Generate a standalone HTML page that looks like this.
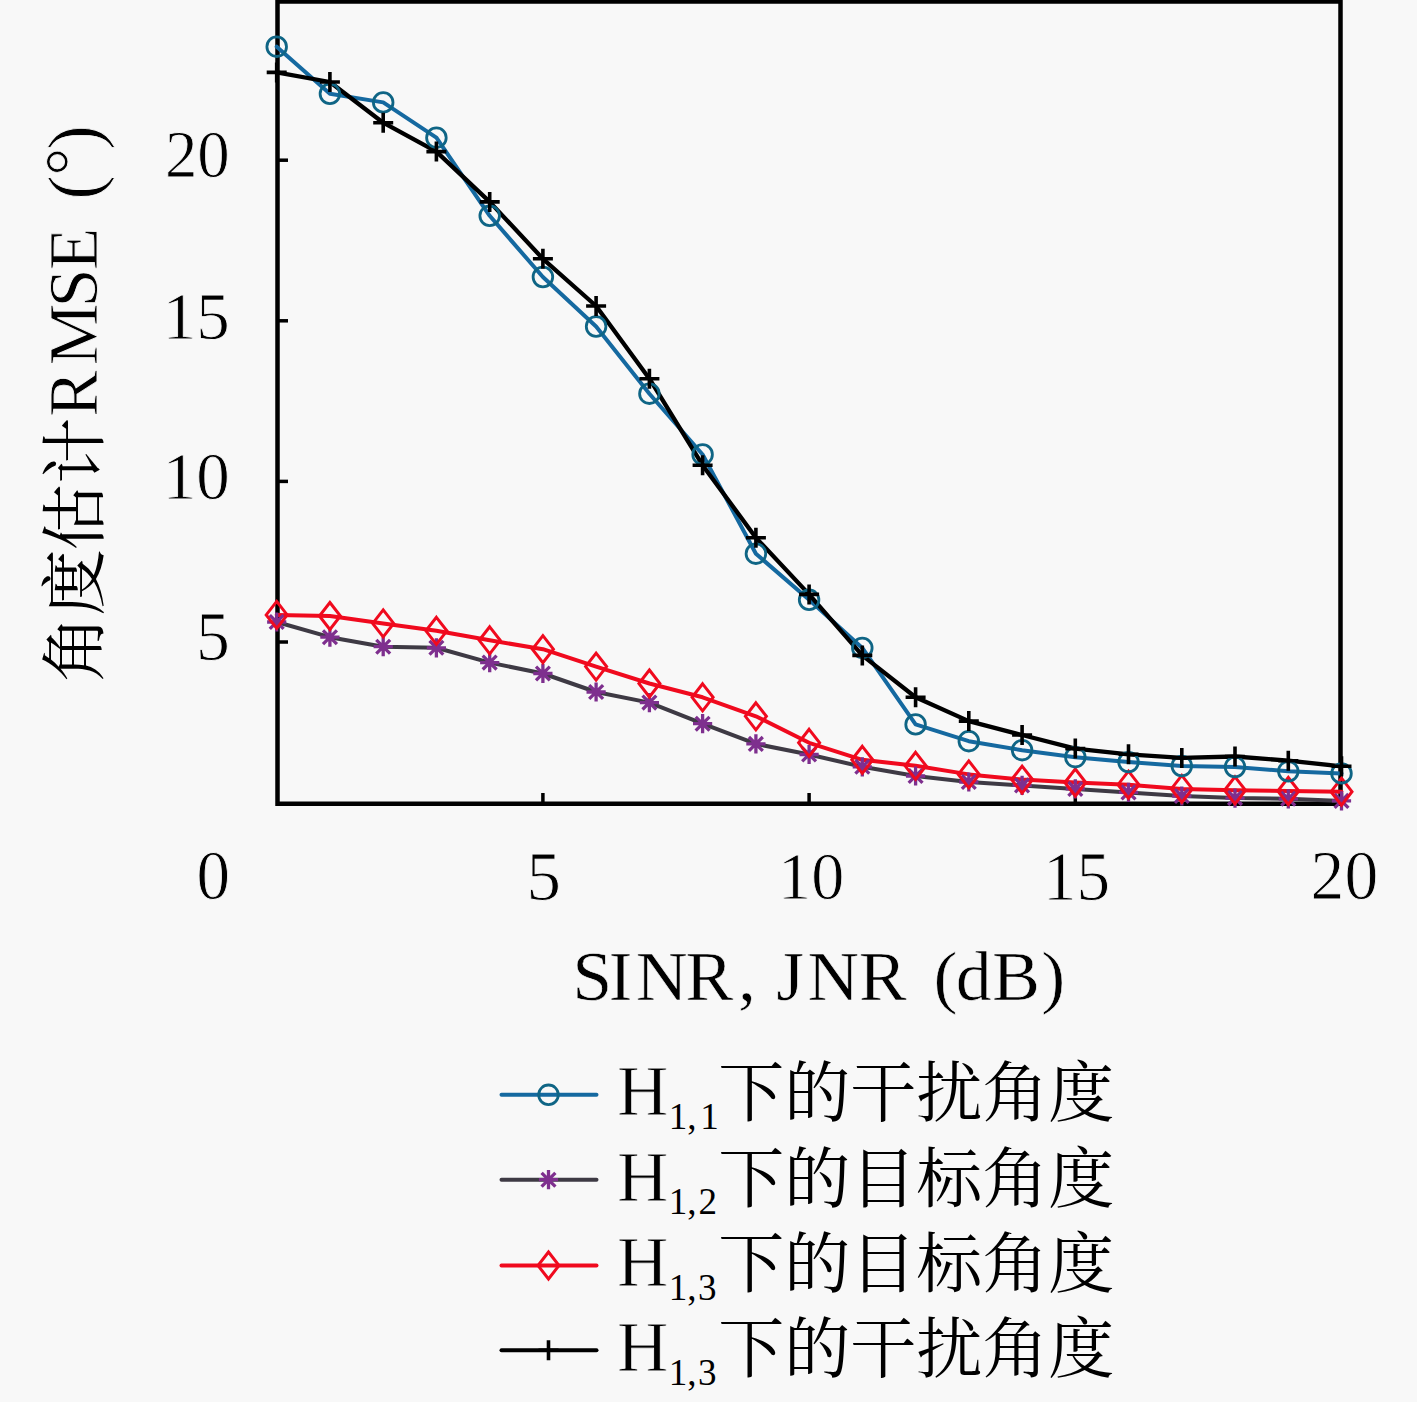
<!DOCTYPE html>
<html><head><meta charset="utf-8"><title>RMSE chart</title>
<style>
html,body{margin:0;padding:0;background:#f8f8f8;overflow:hidden;}
svg{display:block;}
text{fill:#000;}
</style></head><body>
<svg width="1417" height="1402" viewBox="0 0 1417 1402">
<rect width="1417" height="1402" fill="#f8f8f8"/>
<path d="M277.5 1.6V803.8H1340.5V1.6Z" stroke="#000" stroke-width="4.5" fill="none"/>
<g stroke="#000" stroke-width="3.5">
<line x1="279" y1="642.0" x2="288" y2="642.0"/>
<line x1="279" y1="481.4" x2="288" y2="481.4"/>
<line x1="279" y1="320.8" x2="288" y2="320.8"/>
<line x1="279" y1="160.2" x2="288" y2="160.2"/>
<line x1="542.9" y1="802" x2="542.9" y2="793"/>
<line x1="809.1" y1="802" x2="809.1" y2="793"/>
<line x1="1075.3" y1="802" x2="1075.3" y2="793"/>
<line x1="1341.5" y1="802" x2="1341.5" y2="793"/>
</g>
<polyline points="276.7,622.0 329.9,637.2 383.2,646.7 436.4,647.8 489.7,662.6 542.9,673.5 596.1,692.0 649.4,702.6 702.6,723.7 755.9,743.9 809.1,754.5 862.3,766.8 915.6,776.0 968.8,782.0 1022.1,785.4 1075.3,788.9 1128.5,792.4 1181.8,796.0 1235.0,798.1 1288.3,798.8 1341.5,800.9" fill="none" stroke="#3e3a44" stroke-width="4" stroke-linejoin="round" stroke-linecap="round"/>
<polyline points="276.7,614.9 329.9,616.0 383.2,623.4 436.4,630.8 489.7,640.3 542.9,649.2 596.1,666.6 649.4,683.5 702.6,697.3 755.9,716.3 809.1,742.8 862.3,759.8 915.6,765.8 968.8,774.4 1022.1,779.6 1075.3,782.5 1128.5,784.7 1181.8,788.9 1235.0,790.3 1288.3,791.0 1341.5,791.7" fill="none" stroke="#f00a1e" stroke-width="4" stroke-linejoin="round" stroke-linecap="round"/>
<polyline points="276.7,46.7 329.9,93.8 383.2,102.4 436.4,137.7 489.7,215.8 542.9,277.0 596.1,326.5 649.4,393.7 702.6,454.5 755.9,553.7 809.1,599.8 862.3,647.9 915.6,724.4 968.8,741.2 1022.1,750.2 1075.3,757.2 1128.5,762.1 1181.8,766.0 1235.0,767.0 1288.3,771.3 1341.5,773.4" fill="none" stroke="#1569a0" stroke-width="4" stroke-linejoin="round" stroke-linecap="round"/>
<polyline points="276.7,72.4 329.9,82.0 383.2,122.7 436.4,151.6 489.7,201.9 542.9,258.8 596.1,306.0 649.4,378.7 702.6,465.2 755.9,537.7 809.1,594.4 862.3,655.4 915.6,697.2 968.8,721.1 1022.1,735.0 1075.3,748.6 1128.5,754.3 1181.8,757.9 1235.0,756.5 1288.3,760.7 1341.5,766.3" fill="none" stroke="#000" stroke-width="4.3" stroke-linejoin="round" stroke-linecap="round"/>
<path d="M267.1 622.0H286.3M276.7 612.4V631.6M269.8 615.1L283.6 628.9M269.8 628.9L283.6 615.1" stroke="#7e2f8e" stroke-width="3.3" fill="none"/>
<path d="M320.3 637.2H339.5M329.9 627.6V646.8M323.0 630.3L336.9 644.1M323.0 644.1L336.9 630.3" stroke="#7e2f8e" stroke-width="3.3" fill="none"/>
<path d="M373.6 646.7H392.8M383.2 637.1V656.3M376.3 639.8L390.1 653.6M376.3 653.6L390.1 639.8" stroke="#7e2f8e" stroke-width="3.3" fill="none"/>
<path d="M426.8 647.8H446.0M436.4 638.2V657.4M429.5 640.9L443.3 654.7M429.5 654.7L443.3 640.9" stroke="#7e2f8e" stroke-width="3.3" fill="none"/>
<path d="M480.1 662.6H499.3M489.7 653.0V672.2M482.7 655.7L496.6 669.5M482.7 669.5L496.6 655.7" stroke="#7e2f8e" stroke-width="3.3" fill="none"/>
<path d="M533.3 673.5H552.5M542.9 663.9V683.1M536.0 666.6L549.8 680.4M536.0 680.4L549.8 666.6" stroke="#7e2f8e" stroke-width="3.3" fill="none"/>
<path d="M586.5 692.0H605.7M596.1 682.4V701.6M589.2 685.1L603.1 698.9M589.2 698.9L603.1 685.1" stroke="#7e2f8e" stroke-width="3.3" fill="none"/>
<path d="M639.8 702.6H659.0M649.4 693.0V712.2M642.5 695.7L656.3 709.5M642.5 709.5L656.3 695.7" stroke="#7e2f8e" stroke-width="3.3" fill="none"/>
<path d="M693.0 723.7H712.2M702.6 714.1V733.3M695.7 716.8L709.5 730.6M695.7 730.6L709.5 716.8" stroke="#7e2f8e" stroke-width="3.3" fill="none"/>
<path d="M746.3 743.9H765.5M755.9 734.3V753.5M748.9 737.0L762.8 750.8M748.9 750.8L762.8 737.0" stroke="#7e2f8e" stroke-width="3.3" fill="none"/>
<path d="M799.5 754.5H818.7M809.1 744.9V764.1M802.2 747.6L816.0 761.4M802.2 761.4L816.0 747.6" stroke="#7e2f8e" stroke-width="3.3" fill="none"/>
<path d="M852.7 766.8H871.9M862.3 757.2V776.4M855.4 759.9L869.3 773.7M855.4 773.7L869.3 759.9" stroke="#7e2f8e" stroke-width="3.3" fill="none"/>
<path d="M906.0 776.0H925.2M915.6 766.4V785.6M908.7 769.1L922.5 782.9M908.7 782.9L922.5 769.1" stroke="#7e2f8e" stroke-width="3.3" fill="none"/>
<path d="M959.2 782.0H978.4M968.8 772.4V791.6M961.9 775.1L975.7 788.9M961.9 788.9L975.7 775.1" stroke="#7e2f8e" stroke-width="3.3" fill="none"/>
<path d="M1012.5 785.4H1031.7M1022.1 775.8V795.0M1015.1 778.5L1029.0 792.3M1015.1 792.3L1029.0 778.5" stroke="#7e2f8e" stroke-width="3.3" fill="none"/>
<path d="M1065.7 788.9H1084.9M1075.3 779.3V798.5M1068.4 782.0L1082.2 795.8M1068.4 795.8L1082.2 782.0" stroke="#7e2f8e" stroke-width="3.3" fill="none"/>
<path d="M1118.9 792.4H1138.1M1128.5 782.8V802.0M1121.6 785.5L1135.5 799.3M1121.6 799.3L1135.5 785.5" stroke="#7e2f8e" stroke-width="3.3" fill="none"/>
<path d="M1172.2 796.0H1191.4M1181.8 786.4V805.6M1174.9 789.1L1188.7 802.9M1174.9 802.9L1188.7 789.1" stroke="#7e2f8e" stroke-width="3.3" fill="none"/>
<path d="M1225.4 798.1H1244.6M1235.0 788.5V807.7M1228.1 791.2L1241.9 805.0M1228.1 805.0L1241.9 791.2" stroke="#7e2f8e" stroke-width="3.3" fill="none"/>
<path d="M1278.7 798.8H1297.9M1288.3 789.2V808.4M1281.3 791.9L1295.2 805.7M1281.3 805.7L1295.2 791.9" stroke="#7e2f8e" stroke-width="3.3" fill="none"/>
<path d="M1331.9 800.9H1351.1M1341.5 791.3V810.5M1334.6 794.0L1348.4 807.8M1334.6 807.8L1348.4 794.0" stroke="#7e2f8e" stroke-width="3.3" fill="none"/>
<path d="M276.7 601.4L287.2 614.9L276.7 628.4L266.2 614.9Z" stroke="#f00a1e" stroke-width="3" fill="none"/>
<path d="M329.9 602.5L340.4 616.0L329.9 629.5L319.4 616.0Z" stroke="#f00a1e" stroke-width="3" fill="none"/>
<path d="M383.2 609.9L393.7 623.4L383.2 636.9L372.7 623.4Z" stroke="#f00a1e" stroke-width="3" fill="none"/>
<path d="M436.4 617.3L446.9 630.8L436.4 644.3L425.9 630.8Z" stroke="#f00a1e" stroke-width="3" fill="none"/>
<path d="M489.7 626.8L500.2 640.3L489.7 653.8L479.2 640.3Z" stroke="#f00a1e" stroke-width="3" fill="none"/>
<path d="M542.9 635.7L553.4 649.2L542.9 662.7L532.4 649.2Z" stroke="#f00a1e" stroke-width="3" fill="none"/>
<path d="M596.1 653.1L606.6 666.6L596.1 680.1L585.6 666.6Z" stroke="#f00a1e" stroke-width="3" fill="none"/>
<path d="M649.4 670.0L659.9 683.5L649.4 697.0L638.9 683.5Z" stroke="#f00a1e" stroke-width="3" fill="none"/>
<path d="M702.6 683.8L713.1 697.3L702.6 710.8L692.1 697.3Z" stroke="#f00a1e" stroke-width="3" fill="none"/>
<path d="M755.9 702.8L766.4 716.3L755.9 729.8L745.4 716.3Z" stroke="#f00a1e" stroke-width="3" fill="none"/>
<path d="M809.1 729.3L819.6 742.8L809.1 756.3L798.6 742.8Z" stroke="#f00a1e" stroke-width="3" fill="none"/>
<path d="M862.3 746.3L872.8 759.8L862.3 773.3L851.8 759.8Z" stroke="#f00a1e" stroke-width="3" fill="none"/>
<path d="M915.6 752.3L926.1 765.8L915.6 779.3L905.1 765.8Z" stroke="#f00a1e" stroke-width="3" fill="none"/>
<path d="M968.8 760.9L979.3 774.4L968.8 787.9L958.3 774.4Z" stroke="#f00a1e" stroke-width="3" fill="none"/>
<path d="M1022.1 766.1L1032.6 779.6L1022.1 793.1L1011.6 779.6Z" stroke="#f00a1e" stroke-width="3" fill="none"/>
<path d="M1075.3 769.0L1085.8 782.5L1075.3 796.0L1064.8 782.5Z" stroke="#f00a1e" stroke-width="3" fill="none"/>
<path d="M1128.5 771.2L1139.0 784.7L1128.5 798.2L1118.0 784.7Z" stroke="#f00a1e" stroke-width="3" fill="none"/>
<path d="M1181.8 775.4L1192.3 788.9L1181.8 802.4L1171.3 788.9Z" stroke="#f00a1e" stroke-width="3" fill="none"/>
<path d="M1235.0 776.8L1245.5 790.3L1235.0 803.8L1224.5 790.3Z" stroke="#f00a1e" stroke-width="3" fill="none"/>
<path d="M1288.3 777.5L1298.8 791.0L1288.3 804.5L1277.8 791.0Z" stroke="#f00a1e" stroke-width="3" fill="none"/>
<path d="M1341.5 778.2L1352.0 791.7L1341.5 805.2L1331.0 791.7Z" stroke="#f00a1e" stroke-width="3" fill="none"/>
<circle cx="276.7" cy="46.7" r="9.8" fill="none" stroke="#0f6585" stroke-width="2.8"/>
<circle cx="329.9" cy="93.8" r="9.8" fill="none" stroke="#0f6585" stroke-width="2.8"/>
<circle cx="383.2" cy="102.4" r="9.8" fill="none" stroke="#0f6585" stroke-width="2.8"/>
<circle cx="436.4" cy="137.7" r="9.8" fill="none" stroke="#0f6585" stroke-width="2.8"/>
<circle cx="489.7" cy="215.8" r="9.8" fill="none" stroke="#0f6585" stroke-width="2.8"/>
<circle cx="542.9" cy="277.0" r="9.8" fill="none" stroke="#0f6585" stroke-width="2.8"/>
<circle cx="596.1" cy="326.5" r="9.8" fill="none" stroke="#0f6585" stroke-width="2.8"/>
<circle cx="649.4" cy="393.7" r="9.8" fill="none" stroke="#0f6585" stroke-width="2.8"/>
<circle cx="702.6" cy="454.5" r="9.8" fill="none" stroke="#0f6585" stroke-width="2.8"/>
<circle cx="755.9" cy="553.7" r="9.8" fill="none" stroke="#0f6585" stroke-width="2.8"/>
<circle cx="809.1" cy="599.8" r="9.8" fill="none" stroke="#0f6585" stroke-width="2.8"/>
<circle cx="862.3" cy="647.9" r="9.8" fill="none" stroke="#0f6585" stroke-width="2.8"/>
<circle cx="915.6" cy="724.4" r="9.8" fill="none" stroke="#0f6585" stroke-width="2.8"/>
<circle cx="968.8" cy="741.2" r="9.8" fill="none" stroke="#0f6585" stroke-width="2.8"/>
<circle cx="1022.1" cy="750.2" r="9.8" fill="none" stroke="#0f6585" stroke-width="2.8"/>
<circle cx="1075.3" cy="757.2" r="9.8" fill="none" stroke="#0f6585" stroke-width="2.8"/>
<circle cx="1128.5" cy="762.1" r="9.8" fill="none" stroke="#0f6585" stroke-width="2.8"/>
<circle cx="1181.8" cy="766.0" r="9.8" fill="none" stroke="#0f6585" stroke-width="2.8"/>
<circle cx="1235.0" cy="767.0" r="9.8" fill="none" stroke="#0f6585" stroke-width="2.8"/>
<circle cx="1288.3" cy="771.3" r="9.8" fill="none" stroke="#0f6585" stroke-width="2.8"/>
<circle cx="1341.5" cy="773.4" r="9.8" fill="none" stroke="#0f6585" stroke-width="2.8"/>
<path d="M266.7 72.4H286.7M276.7 62.4V82.4" stroke="#000" stroke-width="3.6" fill="none"/>
<path d="M319.9 82.0H339.9M329.9 72.0V92.0" stroke="#000" stroke-width="3.6" fill="none"/>
<path d="M373.2 122.7H393.2M383.2 112.7V132.7" stroke="#000" stroke-width="3.6" fill="none"/>
<path d="M426.4 151.6H446.4M436.4 141.6V161.6" stroke="#000" stroke-width="3.6" fill="none"/>
<path d="M479.7 201.9H499.7M489.7 191.9V211.9" stroke="#000" stroke-width="3.6" fill="none"/>
<path d="M532.9 258.8H552.9M542.9 248.8V268.8" stroke="#000" stroke-width="3.6" fill="none"/>
<path d="M586.1 306.0H606.1M596.1 296.0V316.0" stroke="#000" stroke-width="3.6" fill="none"/>
<path d="M639.4 378.7H659.4M649.4 368.7V388.7" stroke="#000" stroke-width="3.6" fill="none"/>
<path d="M692.6 465.2H712.6M702.6 455.2V475.2" stroke="#000" stroke-width="3.6" fill="none"/>
<path d="M745.9 537.7H765.9M755.9 527.7V547.7" stroke="#000" stroke-width="3.6" fill="none"/>
<path d="M799.1 594.4H819.1M809.1 584.4V604.4" stroke="#000" stroke-width="3.6" fill="none"/>
<path d="M852.3 655.4H872.3M862.3 645.4V665.4" stroke="#000" stroke-width="3.6" fill="none"/>
<path d="M905.6 697.2H925.6M915.6 687.2V707.2" stroke="#000" stroke-width="3.6" fill="none"/>
<path d="M958.8 721.1H978.8M968.8 711.1V731.1" stroke="#000" stroke-width="3.6" fill="none"/>
<path d="M1012.1 735.0H1032.1M1022.1 725.0V745.0" stroke="#000" stroke-width="3.6" fill="none"/>
<path d="M1065.3 748.6H1085.3M1075.3 738.6V758.6" stroke="#000" stroke-width="3.6" fill="none"/>
<path d="M1118.5 754.3H1138.5M1128.5 744.3V764.3" stroke="#000" stroke-width="3.6" fill="none"/>
<path d="M1171.8 757.9H1191.8M1181.8 747.9V767.9" stroke="#000" stroke-width="3.6" fill="none"/>
<path d="M1225.0 756.5H1245.0M1235.0 746.5V766.5" stroke="#000" stroke-width="3.6" fill="none"/>
<path d="M1278.3 760.7H1298.3M1288.3 750.7V770.7" stroke="#000" stroke-width="3.6" fill="none"/>
<path d="M1331.5 766.3H1351.5M1341.5 756.3V776.3" stroke="#000" stroke-width="3.6" fill="none"/>
<text font-family="'Liberation Serif', serif" stroke="#f8f8f8" stroke-width="1.2" font-size="100" transform="translate(164.90,177.44) scale(0.6489,0.6806)">20</text>
<text font-family="'Liberation Serif', serif" stroke="#f8f8f8" stroke-width="1.2" font-size="100" transform="translate(162.87,338.72) scale(0.6701,0.6806)">15</text>
<text font-family="'Liberation Serif', serif" stroke="#f8f8f8" stroke-width="1.2" font-size="100" transform="translate(162.87,498.66) scale(0.6701,0.6706)">10</text>
<text font-family="'Liberation Serif', serif" stroke="#f8f8f8" stroke-width="1.2" font-size="100" transform="translate(196.03,659.91) scale(0.6775,0.6909)">5</text>
<text font-family="'Liberation Serif', serif" stroke="#f8f8f8" stroke-width="1.2" font-size="100" transform="translate(196.61,899.11) scale(0.6714,0.6940)">0</text>
<text font-family="'Liberation Serif', serif" stroke="#f8f8f8" stroke-width="1.2" font-size="100" transform="translate(526.56,899.80) scale(0.6900,0.7045)">5</text>
<text font-family="'Liberation Serif', serif" stroke="#f8f8f8" stroke-width="1.2" font-size="100" transform="translate(778.04,899.13) scale(0.6621,0.6838)">10</text>
<text font-family="'Liberation Serif', serif" stroke="#f8f8f8" stroke-width="1.2" font-size="100" transform="translate(1042.95,899.81) scale(0.6724,0.6940)">15</text>
<text font-family="'Liberation Serif', serif" stroke="#f8f8f8" stroke-width="1.2" font-size="100" transform="translate(1310.60,899.11) scale(0.6761,0.6940)">20</text>
<text font-family="'Liberation Serif', serif" stroke="#f8f8f8" stroke-width="0.85" font-size="100" x="794.81 845.03 882.97 951.72 1024.89 1055.56 1078.00 1121.17 1192.56 1277.78 1296.56 1327.39 1377.69 1446.03" y="0" transform="translate(0,999.6) scale(0.72,0.7069)">SINR, JNR (dB)</text>
<text font-family="'Liberation Serif', 'Noto Serif CJK SC', 'Noto Sans CJK SC', serif" transform="translate(97,0) rotate(-90)" y="0"><tspan font-size="66.24" x="-682.31 -615.55 -550.45 -483.81" dy="0.8">角度估计</tspan><tspan font-size="70.0" stroke="#f8f8f8" stroke-width="0.85" x="-417.10 -365.40 -307.50 -270.30 -230.00 -197.60 -175.70 -146.90" dy="-0.8">RMSE <tspan font-size="74" x="-199.76" dy="1.5">(</tspan><tspan x="-175.70" dy="-5.5">°</tspan><tspan font-size="74" x="-149.82" dy="5.5">)</tspan></tspan></text>
<line x1="501.5" y1="1094.8" x2="596.5" y2="1094.8" stroke="#1569a0" stroke-width="4" stroke-linecap="round"/>
<circle cx="548.5" cy="1094.8" r="9.8" fill="none" stroke="#0f6585" stroke-width="2.8"/>
<text font-family="'Liberation Serif', 'Noto Serif CJK SC', 'Noto Sans CJK SC', serif" y="1115.30"><tspan font-size="71.1" stroke="#f8f8f8" stroke-width="0.85" x="616.97">H</tspan><tspan font-size="37.1" stroke="none" x="668.86 687.22 700.16" dy="13.7">1,1</tspan><tspan font-size="66.0" x="718.26" dy="-12.6">下的干扰角度</tspan></text>
<line x1="501.5" y1="1179.7" x2="596.5" y2="1179.7" stroke="#3e3a44" stroke-width="4" stroke-linecap="round"/>
<path d="M538.9 1179.7H558.1M548.5 1170.1V1189.3M541.6 1172.8L555.4 1186.6M541.6 1186.6L555.4 1172.8" stroke="#7e2f8e" stroke-width="3.3" fill="none"/>
<text font-family="'Liberation Serif', 'Noto Serif CJK SC', 'Noto Sans CJK SC', serif" y="1200.55"><tspan font-size="71.1" stroke="#f8f8f8" stroke-width="0.85" x="616.97">H</tspan><tspan font-size="37.1" stroke="none" x="668.86 687.22 698.62" dy="13.7">1,2</tspan><tspan font-size="66.0" x="718.26" dy="-12.6">下的目标角度</tspan></text>
<line x1="501.5" y1="1265.5" x2="596.5" y2="1265.5" stroke="#f00a1e" stroke-width="4" stroke-linecap="round"/>
<path d="M548.5 1252.0L559.0 1265.5L548.5 1279.0L538.0 1265.5Z" stroke="#f00a1e" stroke-width="3" fill="none"/>
<text font-family="'Liberation Serif', 'Noto Serif CJK SC', 'Noto Sans CJK SC', serif" y="1285.80"><tspan font-size="71.1" stroke="#f8f8f8" stroke-width="0.85" x="616.97">H</tspan><tspan font-size="37.1" stroke="none" x="668.86 687.22 698.04" dy="13.7">1,3</tspan><tspan font-size="66.0" x="718.26" dy="-12.6">下的目标角度</tspan></text>
<line x1="501.5" y1="1350.3" x2="596.5" y2="1350.3" stroke="#000" stroke-width="4" stroke-linecap="round"/>
<path d="M538.5 1350.3H558.5M548.5 1340.3V1360.3" stroke="#000" stroke-width="3.6" fill="none"/>
<text font-family="'Liberation Serif', 'Noto Serif CJK SC', 'Noto Sans CJK SC', serif" y="1371.05"><tspan font-size="71.1" stroke="#f8f8f8" stroke-width="0.85" x="616.97">H</tspan><tspan font-size="37.1" stroke="none" x="668.86 687.22 698.04" dy="13.7">1,3</tspan><tspan font-size="66.0" x="718.26" dy="-12.6">下的干扰角度</tspan></text>
</svg></body></html>
